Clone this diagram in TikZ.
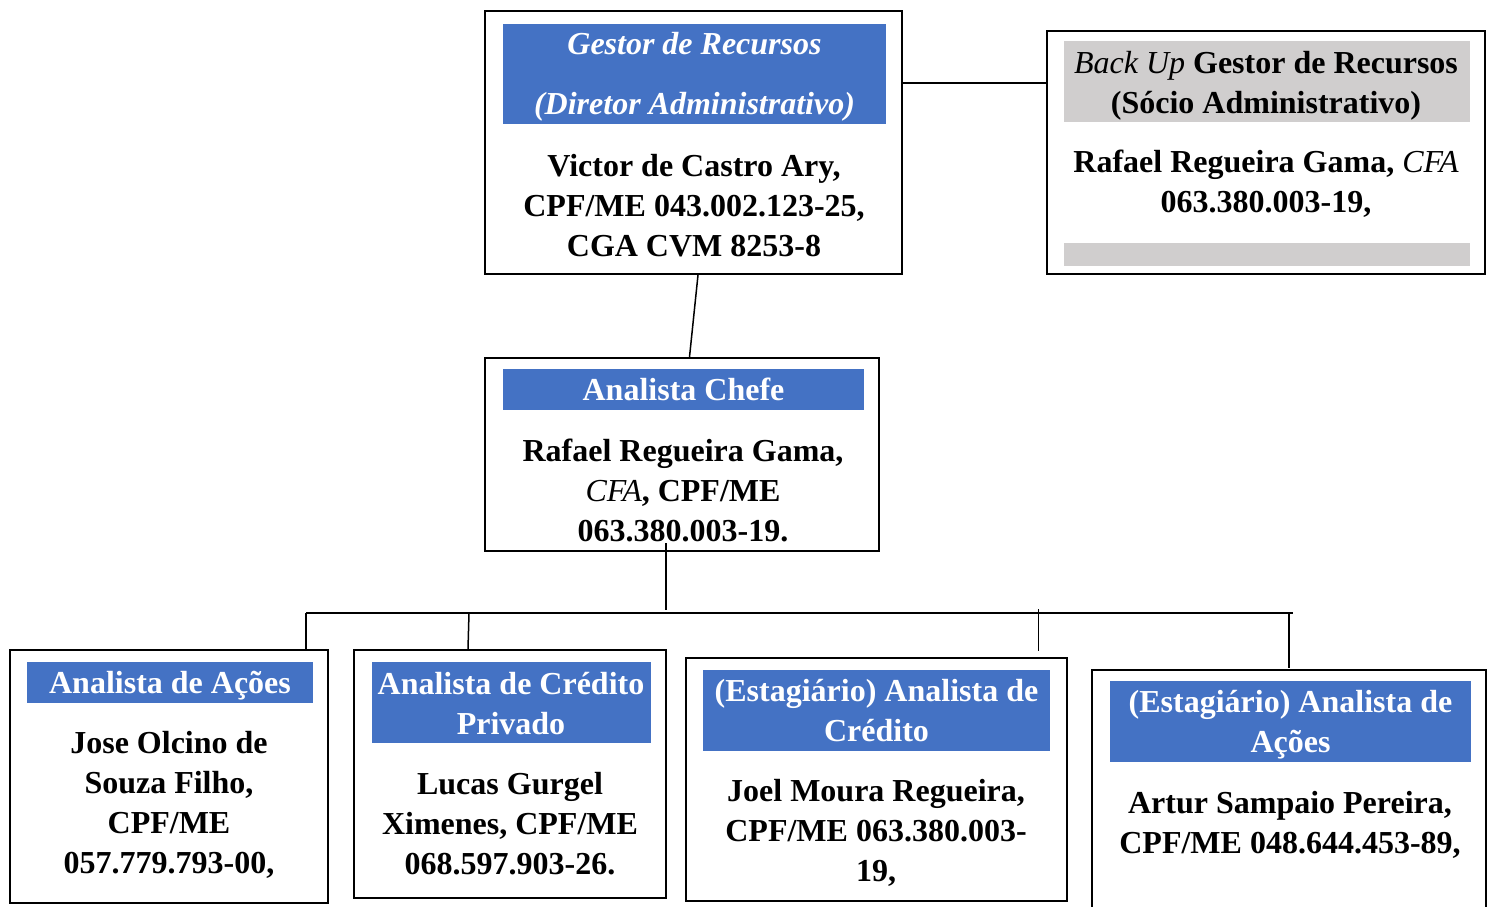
\documentclass[tikz,border=0pt]{standalone}
\usepackage{fontspec}
\setmainfont{Liberation Serif}
\usetikzlibrary{calc}
\definecolor{hdrblue}{HTML}{4472C4}
\definecolor{hdrgray}{HTML}{D0CECE}
\tikzset{
  box/.style={draw=black, line width=1pt, rectangle, inner sep=0pt},
  bluehdr/.style={fill=hdrblue, rectangle, inner sep=0pt},
  grayhdr/.style={fill=hdrgray, rectangle, inner sep=0pt},
  hdrtxt/.style={text=white, align=center, inner sep=0pt, font=\fontsize{16}{20}\selectfont\bfseries},
  bodytxt/.style={text=black, align=center, inner sep=0pt, font=\fontsize{16}{20}\selectfont\bfseries},
  conn/.style={draw=black, line width=0.75pt}
}
\begin{document}
\begin{tikzpicture}[x=0.5pt,y=-0.5pt]
\clip (0,0) rectangle (1489,906);
\useasboundingbox (0,0) rectangle (1489,906);
\fill[white] (0,0) rectangle (1489,906);

% Gestor de Recursos
\node[box, minimum width=208.5pt, minimum height=131.5pt] (gestor) at (693.5,142.5) {};
\node[bluehdr, minimum width=191.5pt, minimum height=50pt] (gestorh) at (694.5,74) {};
\node[hdrtxt, font=\fontsize{16}{30}\selectfont\bfseries\itshape] (gestorht) at (694.5,77) {Gestor de Recursos\\(Diretor Administrativo)};
\node[bodytxt] (gestorb) at (694,205.5) {Victor de Castro Ary,\\CPF/ME 043.002.123-25,\\CGA CVM 8253-8};

% Back Up
\node[box, minimum width=219pt, minimum height=121.5pt] (backup) at (1266,152.5) {};
\node[grayhdr, minimum width=203pt, minimum height=40.5pt] (backuph) at (1267,81.5) {};
\node[bodytxt] (backupht) at (1266,85.5) {{\mdseries\itshape Back Up} Gestor de Recursos\\(Sócio Administrativo)};
\node[bodytxt] (backupb) at (1266,184) {Rafael Regueira Gama, {\mdseries\itshape CFA}\\063.380.003-19,};
\node[grayhdr, minimum width=203pt, minimum height=11.5pt] (backupbar) at (1267,254.5) {};

% Analista Chefe
\node[box, minimum width=197pt, minimum height=96.5pt] (chefe) at (682,454.5) {};
\node[bluehdr, minimum width=180.5pt, minimum height=20.5pt] (chefeh) at (683.5,389.5) {};
\node[hdrtxt] (chefeht) at (683.5,389.5) {Analista Chefe};
\node[bodytxt] (chefeb) at (683,490) {Rafael Regueira Gama,\\{\mdseries\itshape CFA}, CPF/ME\\063.380.003-19.};

% Bottom row
\node[box, minimum width=159pt, minimum height=126.5pt] (acoes) at (169,776.5) {};
\node[bluehdr, minimum width=143pt, minimum height=20.5pt] (acoesh) at (170,682.5) {};
\node[hdrtxt] (acoesht) at (170,686) {Analista de Ações};
\node[bodytxt] (acoesb) at (169,805) {Jose Olcino de\\Souza Filho,\\CPF/ME\\057.779.793-00,};

\node[box, minimum width=156pt, minimum height=124pt] (credito) at (510,774) {};
\node[bluehdr, minimum width=139.5pt, minimum height=40.5pt] (creditoh) at (511,702.5) {};
\node[hdrtxt] (creditoht) at (511,703.5) {Analista de Crédito\\Privado};
\node[bodytxt] (creditob) at (510,824) {Lucas Gurgel\\Ximenes, CPF/ME\\068.597.903-26.};

\node[box, minimum width=190.5pt, minimum height=121.5pt] (estcred) at (876.5,779.5) {};
\node[bluehdr, minimum width=173.5pt, minimum height=40.5pt] (estcredh) at (876.5,710.5) {};
\node[hdrtxt] (estcredht) at (876.5,711) {(Estagiário) Analista de\\Crédito};
\node[bodytxt] (estcredb) at (876,833) {Joel Moura Regueira,\\CPF/ME 063.380.003-\\19,};

\node[box, minimum width=197pt, minimum height=125pt] (estacoes) at (1289,795) {};
\node[bluehdr, minimum width=180.5pt, minimum height=40.5pt] (estacoesh) at (1290.5,721.5) {};
\node[hdrtxt] (estacoesht) at (1290.5,724.5) {(Estagiário) Analista de\\Ações};
\node[bodytxt] (estacoesb) at (1290,825) {Artur Sampaio Pereira,\\CPF/ME 048.644.453-89,};

% Connectors
\coordinate (j1) at (902,83);
\draw[conn] (gestor.east |- j1) -- (backup.west |- j1);
\draw[conn] ($(gestor.south)+(4.5,0)$) -- ($(chefe.north)+(7.5,0)$);
\coordinate (bustop) at (666,543);
\coordinate (busmid) at (666,610);
\draw[conn] (bustop) -- (busmid);
\coordinate (busL) at (306,613);
\coordinate (busR) at (1293,613);
\draw[conn] (busL) -- (busR);
\coordinate (d2) at (469,613);
\coordinate (d3) at (1038.5,609);
\coordinate (d3e) at (1038.5,651);
\coordinate (d4) at (1289,613);
\coordinate (d4e) at (1289,668);
\draw[conn] (busL) -- (acoes.north -| busL);
\draw[conn] (d2) -- ($(credito.north -| d2)+(-1,0)$);
\draw[conn] (d3) -- (d3e);
\draw[conn] (d4) -- (d4e);
\end{tikzpicture}
\end{document}
